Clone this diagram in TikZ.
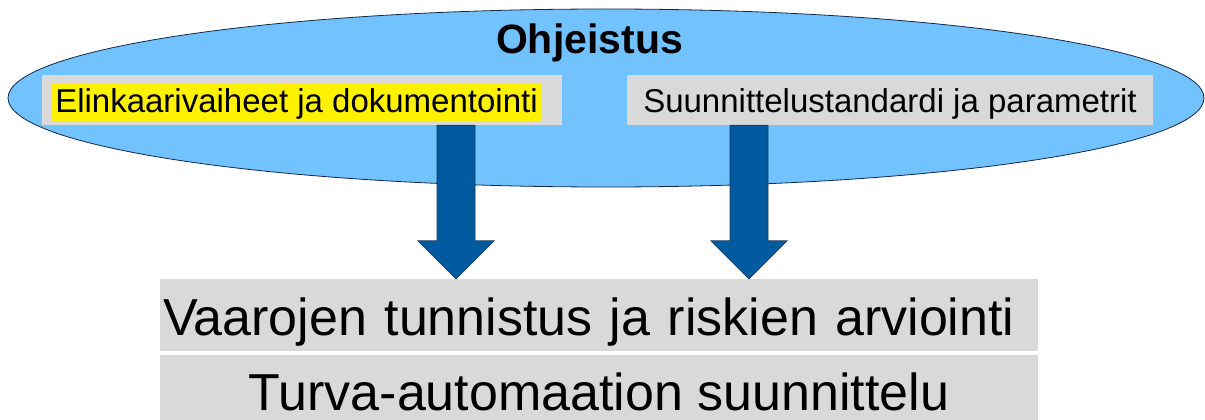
\documentclass[tikz,border=0pt]{standalone}
\usepackage{fontspec}
\setmainfont{Liberation Sans}
\usetikzlibrary{positioning,shapes.geometric}
\definecolor{skyfill}{RGB}{113,194,255}
\definecolor{navyline}{RGB}{20,40,70}
\definecolor{flowblue}{RGB}{0,90,160}
\definecolor{flowline}{RGB}{30,60,100}
\definecolor{boxgray}{RGB}{217,217,217}

\begin{document}
\begin{tikzpicture}[x=1pt,y=-1pt, guide/.style={ellipse,draw=navyline,fill=skyfill,line width=0.8pt,inner sep=0pt,minimum width=1196pt,minimum height=178pt}, small/.style={fill=boxgray,inner sep=0pt,minimum height=50pt,font=\fontsize{33}{40}\selectfont}, big/.style={fill=boxgray,inner sep=0pt,minimum width=878pt,font=\fontsize{52}{62}\selectfont,text depth=0pt}, flow/.style={fill=flowblue,draw=flowline,line width=0.7pt,line join=miter}]
\useasboundingbox (0,0) rectangle (1205,420);
\node[guide] (G) at (606,98) {};
\node[anchor=base,font=\bfseries\fontsize{41}{48}\selectfont] (title) at (589.5,54) {Ohjeistus};
\node[small,minimum width=520pt] (life) at (302,100) {};
\node[fill=yellow,inner xsep=3pt,inner ysep=3.5pt,text height=25.5pt,text depth=5.5pt,font=\fontsize{33}{40}\selectfont] (lifetxt) at (296.5,102) {Elinkaarivaiheet ja dokumentointi};
\node[small,minimum width=526pt,text height=28pt,text depth=4pt] (norms) at (890,100) {Suunnittelustandardi ja parametrit};
\node[big,minimum height=72pt,text height=40pt,inner xsep=3pt,text width=872pt,align=left] (hazard) at (599,315) {Vaarojen tunnistus ja riskien arviointi};
\node[big,minimum height=65pt,text height=45pt] (safety) at (599,387.5) {Turva-automaation suunnittelu};
\foreach \src/\dx in {life/154,norms/-141}{
  \path ([xshift=\dx pt]\src.south) coordinate (top) (top |- hazard.north) coordinate (tip);
  \draw[flow] ([xshift=-19pt]top) -- ([xshift=-19pt,yshift=38pt]tip) -- ([xshift=-38pt,yshift=38pt]tip) -- (tip) -- ([xshift=38pt,yshift=38pt]tip) -- ([xshift=19pt,yshift=38pt]tip) -- ([xshift=19pt]top) -- cycle;
}
\end{tikzpicture}
\end{document}
